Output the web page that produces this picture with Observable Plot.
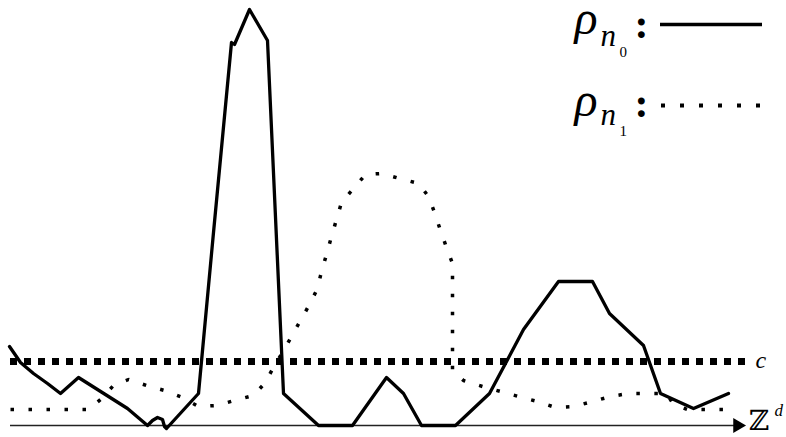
<!DOCTYPE html>
<html>
<head>
<meta charset="utf-8">
<script src="https://cdn.jsdelivr.net/npm/d3@7"></script>
<script src="https://cdn.jsdelivr.net/npm/@observablehq/plot@0.6"></script>
<style>
  html, body { margin: 0; padding: 0; background: #fff; }
  #chart svg { display: block; }
</style>
</head>
<body>
<div id="chart"></div>
<script>
// ---- data (x position along Z^d, height above the axis) ----
const n0X = [9, 20, 33, 47, 60, 78, 127, 147, 152, 157, 162, 164, 166, 198, 213, 231, 234, 249, 267, 283, 318, 352, 386, 403, 421, 455, 489, 523, 558, 592, 609, 643, 660, 693, 728];
const n0Y = [79, 63, 52, 42, 32, 48, 17, 0, 5, 8, 6, -1, -3, 32, 193, 383, 381, 416, 385, 32, 0, 0, 48, 32, 0, 0, 32, 96, 144, 144, 112, 80, 32, 17, 32];

const n1X = [10, 88, 100, 113, 128, 146, 164, 182, 198, 216, 234, 253, 264, 273, 282, 291, 300, 309, 317, 321, 326, 331, 336, 341, 353, 365, 381, 399, 418, 428, 434, 440, 446, 452, 452, 463, 482, 500, 518, 537, 555, 573, 592, 610, 628, 666, 673, 687, 726];
const n1Y = [16, 16, 26, 40, 46, 40, 35, 28, 19, 20, 25, 30, 42, 58, 73, 89, 105, 121, 137, 154, 171, 189, 206, 223, 237, 251, 252, 247, 242, 229, 213, 195, 178, 162, 55, 45, 39, 34, 29, 24, 18, 19, 24, 29, 32, 32, 21, 16, 16];

const cLevel = 64;
const cRange = [10, 746];
const axisRange = [10, 737];

// legend entries
const legendSeries = ["n0", "n1"];
const legendSub = ["0", "1"];
const legendBase = [392, 310];   // baseline of rho
const legendLineY = [401, 320];
const legendLineX = [660, 762];

const n0 = n0X.map((x, i) => ({x, y: n0Y[i]}));
const n1 = n1X.map((x, i) => ({x, y: n1Y[i]}));
const serif = "Liberation Serif, Times New Roman, serif";

const rhoText = legendBase.map((b) => ({x: 574, y: b, t: "ρ"}));
const nText = legendBase.map((b, i) => ({x: 600, y: b - 12 + (i ? 3 : 0), t: "n"}));
const subText = legendBase.map((b, i) => ({x: 619, y: b - 23 + (i ? 3 : 0), t: legendSub[i]}));
const colonText = legendBase.map((b, i) => ({x: 634, y: b - 4 + (i ? 3 : 0), t: ":"}));
const legendLines = legendSeries.map((s, i) => ({s, x1: legendLineX[0], x2: legendLineX[1], y: legendLineY[i]}));

const chart = Plot.plot({
  width: 786,
  height: 437,
  marginTop: 0,
  marginRight: 0,
  marginLeft: 0,
  marginBottom: 12,
  x: {domain: [0, 786], axis: null},
  y: {domain: [0, 425], axis: null},
  marks: [
    // horizontal axis with arrow head
    Plot.ruleY([0], {x1: axisRange[0], x2: axisRange[1], stroke: "#222", strokeWidth: 1.3}),
    Plot.dot([{x: axisRange[1], y: 0}], {x: "x", y: "y", symbol: "triangle", rotate: 90, r: 5.5, fill: "black", stroke: "none"}),
    // threshold c
    Plot.ruleY([cLevel], {x1: cRange[0], x2: cRange[1], stroke: "black", strokeWidth: 7, strokeDasharray: "7,7"}),
    // rho_n1 dotted
    Plot.line(n1, {x: "x", y: "y", stroke: "black", strokeWidth: 3.5, strokeDasharray: "3.5,14.5", strokeLinecap: "butt", strokeLinejoin: "miter"}),
    // rho_n0 solid
    Plot.line(n0, {x: "x", y: "y", stroke: "black", strokeWidth: 3.3, strokeLinejoin: "round"}),
    // legend lines
    Plot.ruleY(legendLines.filter(d => d.s === "n0"), {x1: "x1", x2: "x2", y: "y", stroke: "black", strokeWidth: 3.3}),
    Plot.ruleY(legendLines.filter(d => d.s === "n1"), {x1: "x1", x2: "x2", y: "y", stroke: "black", strokeWidth: 4, strokeDasharray: "4,15", strokeLinecap: "butt", dx: 1}),
    // legend text
    Plot.text(rhoText, {x: "x", y: "y", text: "t", fontSize: 48, fontStyle: "italic", fontFamily: serif, textAnchor: "start", lineAnchor: "bottom", fill: "black"}),
    Plot.text(nText, {x: "x", y: "y", text: "t", fontSize: 31, fontStyle: "italic", fontFamily: serif, textAnchor: "start", lineAnchor: "bottom", fill: "black"}),
    Plot.text(subText, {x: "x", y: "y", text: "t", fontSize: 15, fontFamily: serif, textAnchor: "start", lineAnchor: "bottom", fill: "black"}),
    Plot.text(colonText, {x: "x", y: "y", text: "t", fontSize: 42, fontWeight: "bold", fontFamily: serif, textAnchor: "start", lineAnchor: "bottom", fill: "black"}),
    // labels
    Plot.text([{x: 755, y: cLevel - 6, t: "c"}], {x: "x", y: "y", text: "t", fontSize: 24, fontStyle: "italic", fontFamily: serif, textAnchor: "start", lineAnchor: "bottom", fill: "black"}),
    Plot.text([{x: 748, y: -4, t: "ℤ"}], {x: "x", y: "y", text: "t", fontSize: 28, fontFamily: "DejaVu Serif, DejaVu Sans, serif", textAnchor: "start", lineAnchor: "bottom", fill: "black"}),
    Plot.text([{x: 774, y: 10, t: "d"}], {x: "x", y: "y", text: "t", fontSize: 17, fontStyle: "italic", fontFamily: serif, textAnchor: "start", lineAnchor: "bottom", fill: "black"})
  ]
});
document.getElementById("chart").appendChild(chart);
</script>
</body>
</html>
